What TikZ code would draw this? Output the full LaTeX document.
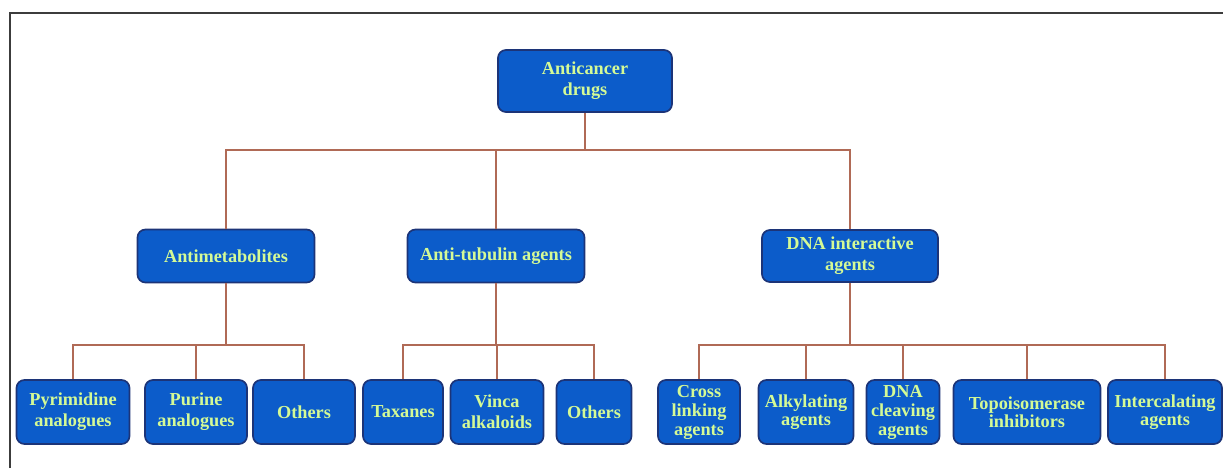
\documentclass[tikz,border=0pt]{standalone}
\usepackage{fontspec}
\setmainfont{Liberation Serif}
\usetikzlibrary{positioning,calc}
\definecolor{drugblue}{RGB}{12,92,202}
\definecolor{drugedge}{RGB}{28,52,120}
\definecolor{druglime}{RGB}{212,250,150}
\definecolor{druglink}{RGB}{176,106,86}
\definecolor{drugframe}{RGB}{60,60,60}
\tikzset{
  drugbox/.style={draw=drugedge,line width=1.2pt,fill=drugblue,rounded corners=0.2cm,
    text=druglime,align=center,inner sep=1pt,
    font=\bfseries\fontsize{13}{15}\selectfont},
  link/.style={druglink,line width=1.3pt},
}
\begin{document}
\begin{tikzpicture}[x=0.025cm,y=-0.025cm]
            \useasboundingbox (0,0) rectangle (1223,468);
            % frame
            \draw[drugframe,line width=2pt] (10,468) -- (10,13) -- (1223,13);
            % top
            \node[drugbox,minimum width=4.35cm,minimum height=1.55cm] (drugs) at (585,81) {Anticancer\\drugs};
            % second level
            \node[drugbox,minimum width=4.425cm,minimum height=1.325cm] (antm) at (226,256) {Antimetabolites};
            \node[drugbox,minimum width=4.425cm,minimum height=1.325cm] (tub) at (496,256) {Anti-tubulin agents};
            \node[drugbox,minimum width=4.4cm,minimum height=1.3cm] (dna) at (850,256) {DNA interactive\\agents};
            % antimetabolites
            \node[drugbox,minimum width=2.825cm,minimum height=1.6cm] (pyr) at (73,412) {Pyrimidine\\analogues};
            \node[drugbox,minimum width=2.55cm,minimum height=1.6cm] (pur) at (196,412) {Purine\\analogues};
            \node[drugbox,minimum width=2.55cm,minimum height=1.6cm] (oth1) at (304,412) {Others};
            % anti-tubulin
            \node[drugbox,minimum width=2.0cm,minimum height=1.6cm] (tax) at (403,412) {Taxanes};
            \node[drugbox,minimum width=2.325cm,minimum height=1.6cm] (vinca) at (497,412) {Vinca\\alkaloids};
            \node[drugbox,minimum width=1.875cm,minimum height=1.6cm] (oth2) at (594,412) {Others};
            % DNA interactive
            \node[drugbox,minimum width=2.05cm,minimum height=1.6cm] (cross) at (699,412) {Cross\\[-1.5pt]linking\\[-1.5pt]agents};
            \node[drugbox,minimum width=2.375cm,minimum height=1.6cm] (alk) at (806,412) {Alkylating\\[-2pt]agents};
            \node[drugbox,minimum width=1.825cm,minimum height=1.6cm] (cleav) at (903,412) {DNA\\[-1.5pt]cleaving\\[-1.5pt]agents};
            \node[drugbox,minimum width=3.675cm,minimum height=1.6cm] (topo) at (1027,412) {Topoisomerase\\[-2pt]inhibitors};
            \node[drugbox,minimum width=2.85cm,minimum height=1.6cm] (inter) at (1165,412) {Intercalating\\[-2pt]agents};
            % connectors
            \coordinate (bus0) at (585,150);
            \draw[link] (drugs) -- (bus0);
            \draw[link] (bus0) -| (antm);
            \draw[link] (bus0) -| (dna);
            \draw[link] (tub |- bus0) -- (tub);
            \coordinate (bus1) at (226,345);
            \draw[link] (antm) -- (bus1);
            \draw[link] (bus1) -| (pyr);
            \draw[link] (bus1) -| (oth1);
            \draw[link] (pur |- bus1) -- (pur);
            \coordinate (bus2) at (496,345);
            \draw[link] (tub) -- (bus2);
            \draw[link] (bus2) -| (tax);
            \draw[link] (bus2) -| (oth2);
            \draw[link] (vinca |- bus2) -- (vinca);
            \coordinate (bus3) at (850,345);
            \draw[link] (dna) -- (bus3);
            \draw[link] (bus3) -| (cross);
            \draw[link] (bus3) -| (inter);
            \foreach \n in {alk,cleav,topo}
                \draw[link] (\n |- bus3) -- (\n);
\end{tikzpicture}
\end{document}
